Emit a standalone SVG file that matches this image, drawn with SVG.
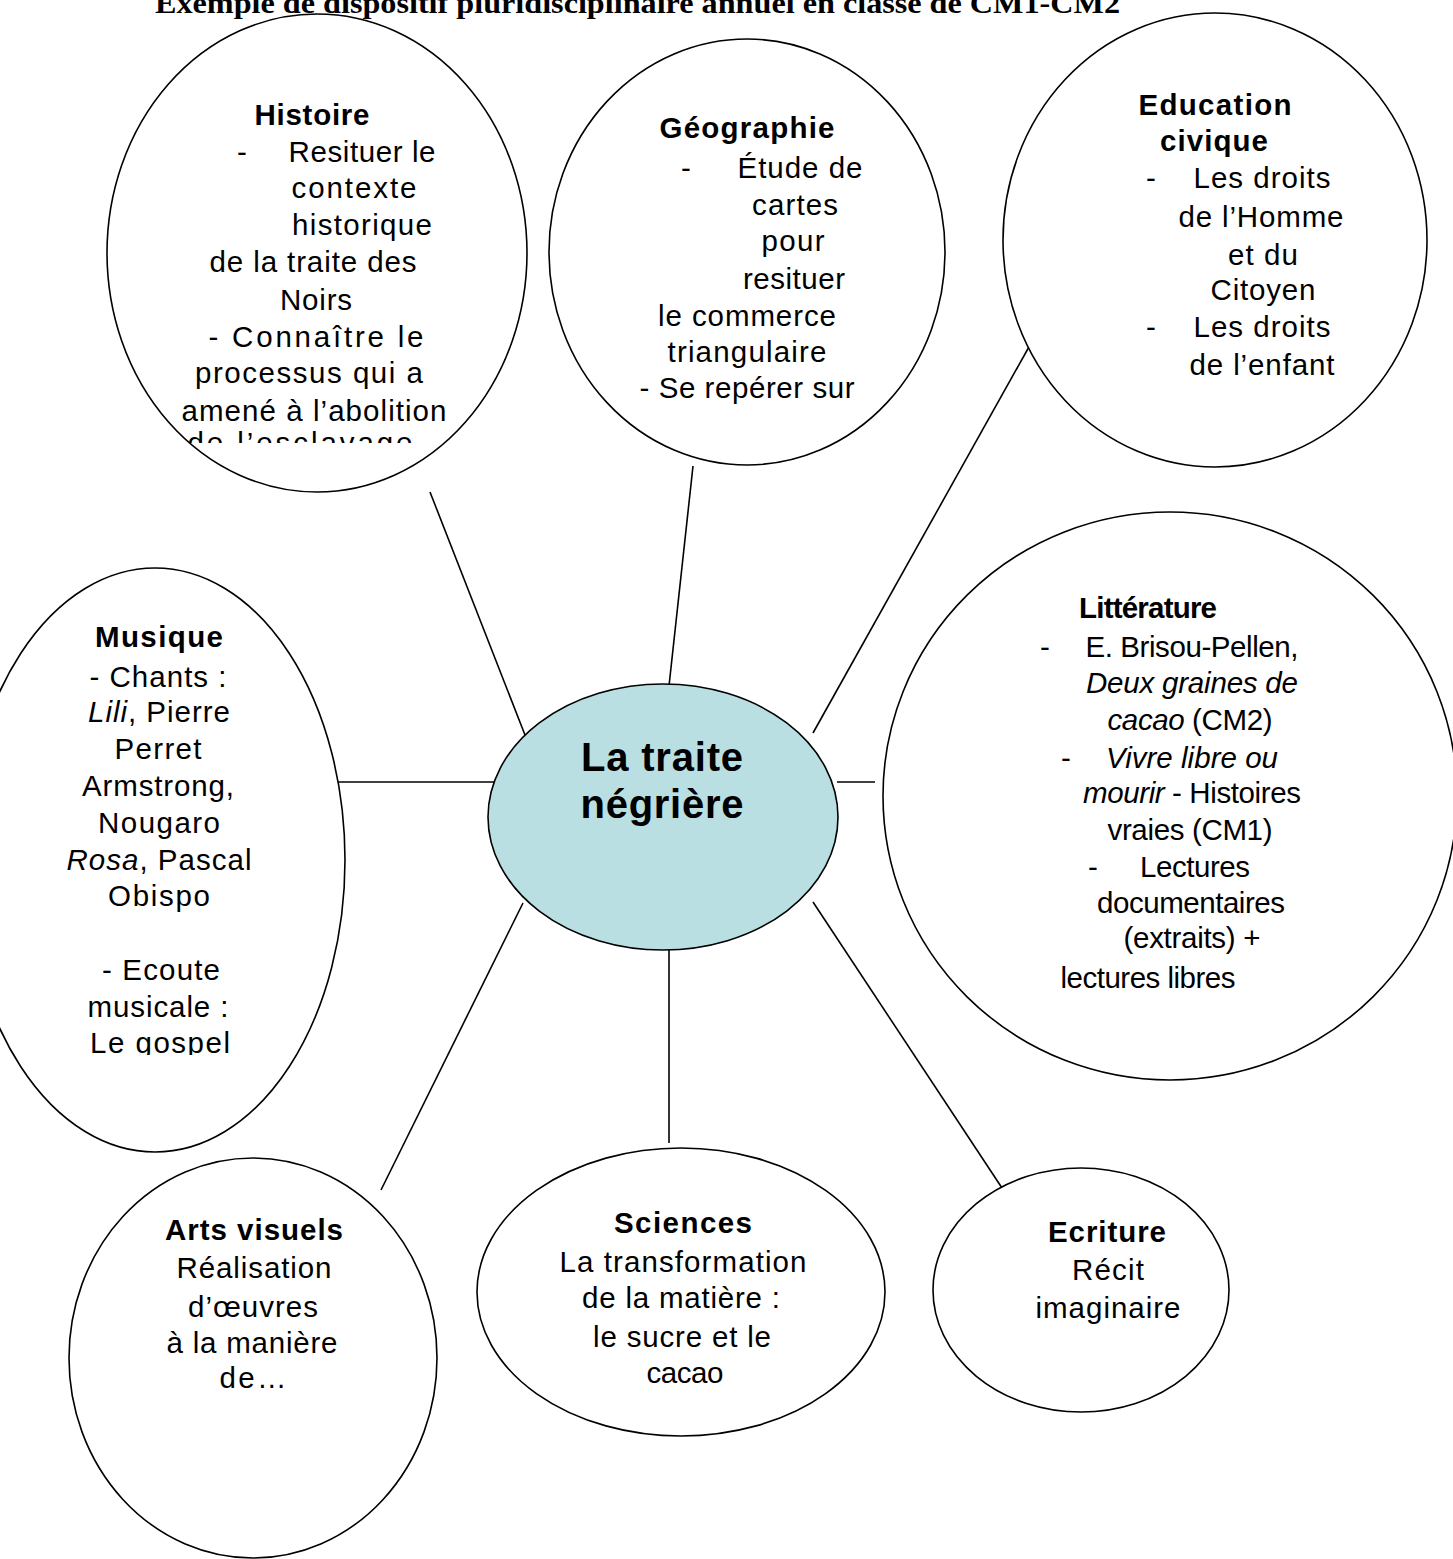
<svg xmlns="http://www.w3.org/2000/svg" width="1453" height="1559" viewBox="0 0 1453 1559">
<style>
.bg{fill:#ffffff}
.node{fill:#ffffff;stroke:#000000;stroke-width:1.6}
.center{fill:#b9dfe3;stroke:#000000;stroke-width:1.6}
.edge{stroke:#000000;stroke-width:1.6;fill:none}
text{font-family:"Liberation Sans",Arial,sans-serif;font-size:29.5px;fill:#000000;text-anchor:middle}
.b{font-weight:bold}
.i{font-style:italic}
.big{font-size:40px;font-weight:bold}
.title{font-family:"Liberation Serif","Times New Roman",serif;font-size:30px;font-weight:bold;text-anchor:start}
</style>
<defs>
<clipPath id="clipHist"><rect x="0" y="0" width="1453" height="443"/></clipPath>
<clipPath id="clipMus"><rect x="0" y="0" width="1453" height="1055"/></clipPath>
</defs>
<rect class="bg" x="0" y="0" width="1453" height="1559"/>
<text class="title" x="155" y="13" textLength="965" lengthAdjust="spacingAndGlyphs">Exemple de dispositif pluridisciplinaire annuel en classe de CM1-CM2</text>

<g id="connectors">
<line class="edge" x1="430" y1="492" x2="525" y2="735"/>
<line class="edge" x1="693" y1="466" x2="669" y2="686"/>
<line class="edge" x1="1030" y1="345" x2="813" y2="733"/>
<line class="edge" x1="333" y1="782" x2="502" y2="782"/>
<line class="edge" x1="837" y1="782" x2="875" y2="782"/>
<line class="edge" x1="523" y1="903" x2="381" y2="1190"/>
<line class="edge" x1="669" y1="950" x2="669" y2="1143"/>
<line class="edge" x1="813" y1="902" x2="1004" y2="1191"/>
</g>

<g id="histoire">
<ellipse class="node" cx="317" cy="253" rx="210" ry="239"/>
<g clip-path="url(#clipHist)">
<text class="b" x="312" y="125" textLength="115" lengthAdjust="spacing">Histoire</text>
<text x="242" y="162">-</text>
<text x="362" y="162" textLength="147" lengthAdjust="spacing">Resituer le</text>
<text x="354" y="198" textLength="125" lengthAdjust="spacing">contexte</text>
<text x="362" y="235" textLength="140" lengthAdjust="spacing">historique</text>
<text x="313" y="272" textLength="207" lengthAdjust="spacing">de la traite des</text>
<text x="316" y="310" textLength="72" lengthAdjust="spacing">Noirs</text>
<text x="316" y="347" textLength="215" lengthAdjust="spacing">- Connaître le</text>
<text x="309" y="383" textLength="228" lengthAdjust="spacing">processus qui a</text>
<text x="314" y="421" textLength="265" lengthAdjust="spacing">amené à l’abolition</text>
<text x="300" y="453" textLength="225" lengthAdjust="spacing">de l’esclavage</text>
</g>
</g>

<g id="geographie">
<ellipse class="node" cx="747" cy="252" rx="198" ry="213"/>
<text class="b" x="747" y="138" textLength="175" lengthAdjust="spacing">Géographie</text>
<text x="686" y="178">-</text>
<text x="800" y="178" textLength="125" lengthAdjust="spacing">Étude de</text>
<text x="795" y="215" textLength="86" lengthAdjust="spacing">cartes</text>
<text x="793" y="251" textLength="63" lengthAdjust="spacing">pour</text>
<text x="794" y="289" textLength="102" lengthAdjust="spacing">resituer</text>
<text x="747" y="326" textLength="178" lengthAdjust="spacing">le commerce</text>
<text x="747" y="362" textLength="159" lengthAdjust="spacing">triangulaire</text>
<text x="747" y="398" textLength="215" lengthAdjust="spacing">- Se repérer sur</text>
</g>

<g id="education-civique">
<ellipse class="node" cx="1215" cy="240" rx="212" ry="227"/>
<text class="b" x="1215" y="115" textLength="153" lengthAdjust="spacing">Education</text>
<text class="b" x="1214" y="151" textLength="108" lengthAdjust="spacing">civique</text>
<text x="1151" y="188">-</text>
<text x="1262" y="188" textLength="137" lengthAdjust="spacing">Les droits</text>
<text x="1261" y="227" textLength="165" lengthAdjust="spacing">de l’Homme</text>
<text x="1263" y="265" textLength="70" lengthAdjust="spacing">et du</text>
<text x="1263" y="300" textLength="105" lengthAdjust="spacing">Citoyen</text>
<text x="1151" y="337">-</text>
<text x="1262" y="337" textLength="137" lengthAdjust="spacing">Les droits</text>
<text x="1262" y="375" textLength="145" lengthAdjust="spacing">de l’enfant</text>
</g>

<g id="litterature">
<ellipse class="node" cx="1170" cy="796" rx="287" ry="284"/>
<text class="b" x="1148" y="618" textLength="138" lengthAdjust="spacing">Littérature</text>
<text x="1045" y="657">-</text>
<text x="1192" y="657" textLength="213" lengthAdjust="spacing">E. Brisou-Pellen,</text>
<text class="i" x="1192" y="693" textLength="212" lengthAdjust="spacing">Deux graines de</text>
<text x="1190" y="730" textLength="165" lengthAdjust="spacing"><tspan class="i">cacao</tspan> (CM2)</text>
<text x="1066" y="768">-</text>
<text class="i" x="1192" y="768" textLength="172" lengthAdjust="spacing">Vivre libre ou</text>
<text x="1192" y="803" textLength="218" lengthAdjust="spacing"><tspan class="i">mourir</tspan> - Histoires</text>
<text x="1190" y="840" textLength="165" lengthAdjust="spacing">vraies (CM1)</text>
<text x="1093" y="877">-</text>
<text x="1195" y="877" textLength="110" lengthAdjust="spacing">Lectures</text>
<text x="1191" y="913" textLength="188" lengthAdjust="spacing">documentaires</text>
<text x="1192" y="948" textLength="137" lengthAdjust="spacing">(extraits) +</text>
<text x="1148" y="988" textLength="175" lengthAdjust="spacing">lectures libres</text>
</g>

<g id="musique">
<ellipse class="node" cx="155" cy="860" rx="190" ry="292"/>
<g clip-path="url(#clipMus)">
<text class="b" x="159" y="647" textLength="128" lengthAdjust="spacing">Musique</text>
<text x="158" y="687" textLength="137" lengthAdjust="spacing">- Chants :</text>
<text x="159" y="722" textLength="142" lengthAdjust="spacing"><tspan class="i">Lili</tspan>, Pierre</text>
<text x="158" y="759" textLength="87" lengthAdjust="spacing">Perret</text>
<text x="158" y="796" textLength="152" lengthAdjust="spacing">Armstrong,</text>
<text x="159" y="833" textLength="122" lengthAdjust="spacing">Nougaro</text>
<text x="159" y="870" textLength="185" lengthAdjust="spacing"><tspan class="i">Rosa</tspan>, Pascal</text>
<text x="159" y="906" textLength="102" lengthAdjust="spacing">Obispo</text>
<text x="161" y="980" textLength="118" lengthAdjust="spacing">- Ecoute</text>
<text x="158" y="1017" textLength="141" lengthAdjust="spacing">musicale :</text>
<text x="160" y="1053" textLength="140" lengthAdjust="spacing">Le gospel</text>
</g>
</g>

<g id="center">
<ellipse class="center" cx="663" cy="817" rx="175" ry="133"/>
<text class="big" x="662" y="771" textLength="162" lengthAdjust="spacing">La traite</text>
<text class="big" x="662" y="818" textLength="163" lengthAdjust="spacing">négrière</text>
</g>

<g id="arts-visuels">
<ellipse class="node" cx="253" cy="1358" rx="184" ry="200"/>
<text class="b" x="254" y="1240" textLength="178" lengthAdjust="spacing">Arts visuels</text>
<text x="254" y="1278" textLength="155" lengthAdjust="spacing">Réalisation</text>
<text x="253" y="1317" textLength="130" lengthAdjust="spacing">d’œuvres</text>
<text x="252" y="1353" textLength="171" lengthAdjust="spacing">à la manière</text>
<text x="253" y="1388" textLength="67" lengthAdjust="spacing">de…</text>
</g>

<g id="sciences">
<ellipse class="node" cx="681" cy="1292" rx="204" ry="144"/>
<text class="b" x="683" y="1233" textLength="138" lengthAdjust="spacing">Sciences</text>
<text x="683" y="1272" textLength="247" lengthAdjust="spacing">La transformation</text>
<text x="681" y="1308" textLength="198" lengthAdjust="spacing">de la matière :</text>
<text x="682" y="1347" textLength="178" lengthAdjust="spacing">le sucre et le</text>
<text x="685" y="1383" textLength="77" lengthAdjust="spacing">cacao</text>
</g>

<g id="ecriture">
<ellipse class="node" cx="1081" cy="1290" rx="148" ry="122"/>
<text class="b" x="1107" y="1242" textLength="118" lengthAdjust="spacing">Ecriture</text>
<text x="1108" y="1280" textLength="72" lengthAdjust="spacing">Récit</text>
<text x="1108" y="1318" textLength="145" lengthAdjust="spacing">imaginaire</text>
</g>
</svg>
